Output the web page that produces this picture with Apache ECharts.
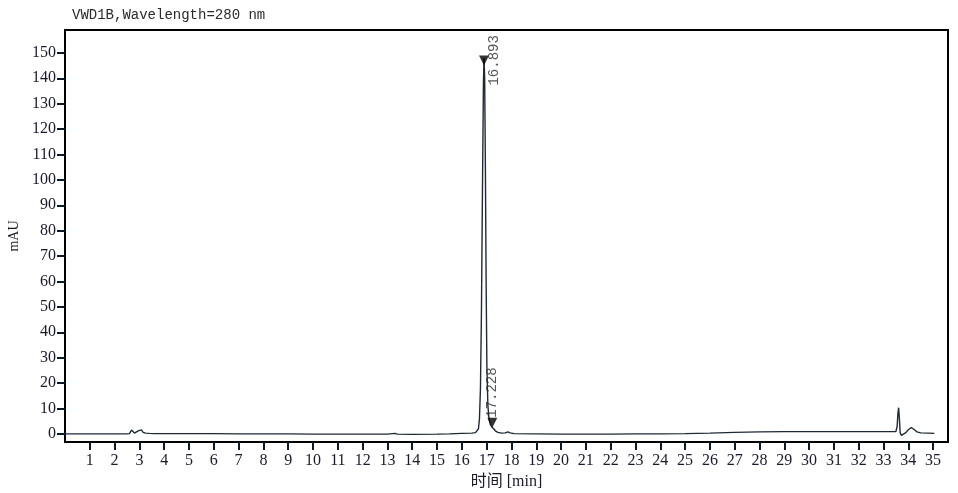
<!DOCTYPE html>
<html>
<head>
<meta charset="utf-8">
<script src="https://cdn.jsdelivr.net/npm/echarts@6/dist/echarts.min.js"></script>
<style>
html,body{margin:0;padding:0;background:#fff;}
#chart{width:958px;height:493px;}
</style>
</head>
<body>
<div id="chart"></div>
<script>
// Chromatogram trace (time in min, signal in mAU)
const times = [0, 0.5, 1.0, 1.5, 2.0, 2.5, 2.6, 2.68, 2.75, 2.8, 2.88, 2.95, 3.02, 3.08, 3.15, 3.25, 3.4, 3.6,
  4.0, 5.0, 6.0, 7.0, 8.0, 9.0, 10.0, 11.0, 12.0, 13.0, 13.3, 13.4, 14.0, 15.0, 15.5, 16.0, 16.4, 16.55,
  16.62, 16.67, 16.71, 16.75, 16.79, 16.83, 16.87, 16.893, 16.92, 16.95, 16.98, 17.01, 17.05, 17.10, 17.15,
  17.20, 17.228, 17.28, 17.35, 17.45, 17.6, 17.75, 17.85, 17.95, 18.1, 19, 20, 21, 22, 23, 24, 25, 26, 27,
  28, 29, 30, 31, 32, 33, 33.5, 33.55, 33.58, 33.61, 33.64, 33.67, 33.72, 33.8, 33.9, 34.0, 34.12, 34.22,
  34.35, 34.5, 34.8, 35.05];
const signal = [0, 0, 0, 0, 0, 0, 0.1, 1.5, 1.1, 0.3, 0.9, 1.2, 0.8, 1.6, 0.6, 0.3, 0.2, 0.1,
  0.1, 0.1, 0.1, 0, 0, 0, -0.1, -0.1, -0.1, -0.1, 0.2, -0.1, -0.2, -0.1, 0, 0.2, 0.3, 0.5,
  0.9, 2, 6, 18, 48, 95, 138, 148, 140, 104, 58, 26, 11, 5.5, 3.6,
  2.8, 2.6, 2.0, 1.2, 0.6, 0.3, 0.4, 0.8, 0.4, 0.1, 0, -0.1, -0.1, -0.1, 0, 0, 0.1, 0.3, 0.6,
  0.8, 0.9, 0.9, 0.9, 0.9, 0.9, 0.9, 3, 8, 10.3, 6, 0.5, -0.6, -0.3, 0.5, 1.6, 2.5, 1.8,
  0.8, 0.4, 0.3, 0.2];

// Integrated peaks
const peakTimes = [16.893, 17.228];
const peakHeights = [145, 2.4];

// Axis ticks
const xTicks = [1,2,3,4,5,6,7,8,9,10,11,12,13,14,15,16,17,18,19,20,21,22,23,24,25,26,27,28,29,30,31,32,33,34,35];
const yTicks = [0,10,20,30,40,50,60,70,80,90,100,110,120,130,140,150];

const titleText = 'VWD1B,Wavelength=280 nm';
const xName = '时间 [min]';
const yName = 'mAU';

const trace = times.map((t, i) => [t, signal[i]]);
const labelPos = [[15, 30], [5, 0]];
const peaks = peakTimes.map((t, i) => ({
  value: [t, peakHeights[i]],
  label: { position: labelPos[i] }
}));

const serif = '"Liberation Serif", "Noto Sans CJK SC", serif';
const mono = '"Liberation Mono", monospace';

const chart = echarts.init(document.getElementById('chart'), null, {renderer: 'canvas'});
chart.setOption({
  animation: false,
  backgroundColor: '#fff',
  title: {
    text: titleText, left: 67, top: 3,
    textStyle: { fontFamily: mono, fontSize: 14, fontWeight: 'normal', color: '#2a2a2a' }
  },
  grid: { left: 65, right: 10, top: 30, bottom: 51, show: true, borderColor: '#000', borderWidth: 2,
          containLabel: false, outerBoundsMode: 'none' },
  xAxis: {
    type: 'value', min: 0, max: 35.6,
    name: xName, nameLocation: 'middle', nameGap: 30,
    nameTextStyle: { fontFamily: serif, fontSize: 16, color: '#1a1a2a' },
    axisLine: { onZero: false, lineStyle: { color: '#000', width: 2 } },
    axisTick: { customValues: xTicks, length: 8, lineStyle: { color: '#0a1a2a', width: 2 } },
    axisLabel: { customValues: xTicks, margin: 11, fontFamily: serif, fontSize: 16, color: '#1a1a2e' },
    splitLine: { show: false }
  },
  yAxis: {
    type: 'value', min: -3.2, max: 159,
    name: yName, nameLocation: 'middle', nameGap: 43, nameRotate: 90,
    nameTextStyle: { fontFamily: serif, fontSize: 14, color: '#1a1a2a' },
    axisLine: { lineStyle: { color: '#000', width: 2 } },
    axisTick: { customValues: yTicks, length: 8, lineStyle: { color: '#0a1a2a', width: 2 } },
    axisLabel: { customValues: yTicks, margin: 9, fontFamily: serif, fontSize: 16, color: '#1a1a2e' },
    splitLine: { show: false }
  },
  series: [
    {
      type: 'line', data: trace, showSymbol: false, symbol: 'none',
      lineStyle: { color: '#1e2a36', width: 1.4 }, z: 2
    },
    {
      type: 'scatter', data: peaks,
      symbol: 'triangle', symbolRotate: 180, symbolSize: 10, symbolOffset: [0, -5],
      itemStyle: { color: '#000' },
      label: {
        show: true, rotate: 90, align: 'left', verticalAlign: 'middle',
        fontFamily: mono, fontSize: 14, color: '#2a2a2a',
        formatter: p => p.value[0].toFixed(3)
      },
      z: 3
    }
  ]
});
</script>
</body>
</html>
